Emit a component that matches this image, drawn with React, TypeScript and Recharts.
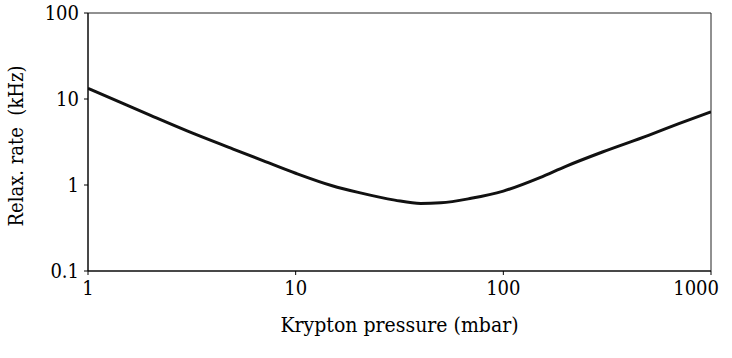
import React from 'react';
import { LineChart, Line, XAxis, YAxis, ReferenceArea } from 'recharts';

const pressure = [1, 1.5, 2, 3, 5, 7, 10, 15, 20, 30, 40, 50, 70, 100, 150, 200, 300, 500, 700, 1000];
const rate = [13.3, 8.7, 6.45, 4.26, 2.62, 1.91, 1.37, 0.98, 0.82, 0.667, 0.61, 0.62, 0.7, 0.85, 1.22, 1.65, 2.42, 3.78, 5.16, 7.1];
const xTicks = [1, 10, 100, 1000];
const yTicks = [0.1, 1, 10, 100];

const data = pressure.map((p, i) => ({ p, r: rate[i] }));

const font = "'DejaVu Serif Condensed', 'DejaVu Serif', serif";

const YLabel = (props: any) => {
  const vb = props.viewBox || { x: 0, y: 13, width: 88, height: 258 };
  const cx = vb.x + 16;
  const cy = vb.y + vb.height / 2 + 4;
  return (
    <text
      x={cx}
      y={cy}
      transform={`rotate(-90 ${cx} ${cy})`}
      textAnchor="middle"
      dominantBaseline="central"
      fill="#000"
      fontFamily={font}
      fontSize={20}
      style={{ whiteSpace: 'pre' }}
    >
      {'Relax. rate  (kHz)'}
    </text>
  );
};

const XTick = (props: any) => {
  const { x, y, payload } = props;
  const last = payload.value === xTicks[xTicks.length - 1];
  return (
    <text
      x={last ? x + 8 : x}
      y={y}
      dy="0.71em"
      textAnchor={last ? 'end' : 'middle'}
      fill="#000"
      fontFamily={font}
      fontSize={20}
    >
      {String(payload.value)}
    </text>
  );
};

export default function App() {
  return (
    <div style={{ position: 'absolute', left: 0, top: 0, background: '#fff' }}>
      <LineChart width={732} height={358} data={data} margin={{ top: 13, right: 21, left: 0, bottom: 0 }}>
        <XAxis
          dataKey="p"
          type="number"
          scale="log"
          domain={[1, 1000]}
          ticks={xTicks}
          allowDataOverflow
          height={87}
          stroke="#000"
          tickSize={4}
          tickMargin={6}
          tick={<XTick />}
          label={{ value: 'Krypton pressure (mbar)', position: 'insideBottom', offset: 26, fill: '#000', fontSize: 21, fontFamily: font }}
        />
        <YAxis
          type="number"
          scale="log"
          domain={[0.1, 100]}
          ticks={yTicks}
          allowDataOverflow
          width={88}
          stroke="#000"
          tickSize={4}
          tickMargin={5}
          tick={{ fill: '#000', fontSize: 20, fontFamily: font }}
          label={<YLabel />}
        />
        <ReferenceArea x1={1} x2={1000} y1={0.1} y2={100} fill="none" stroke="#222" strokeWidth={1} ifOverflow="extendDomain" />
        <Line
          dataKey="r"
          type="monotone"
          stroke="#111"
          strokeWidth={3}
          dot={false}
          isAnimationActive={false}
        />
      </LineChart>
    </div>
  );
}
